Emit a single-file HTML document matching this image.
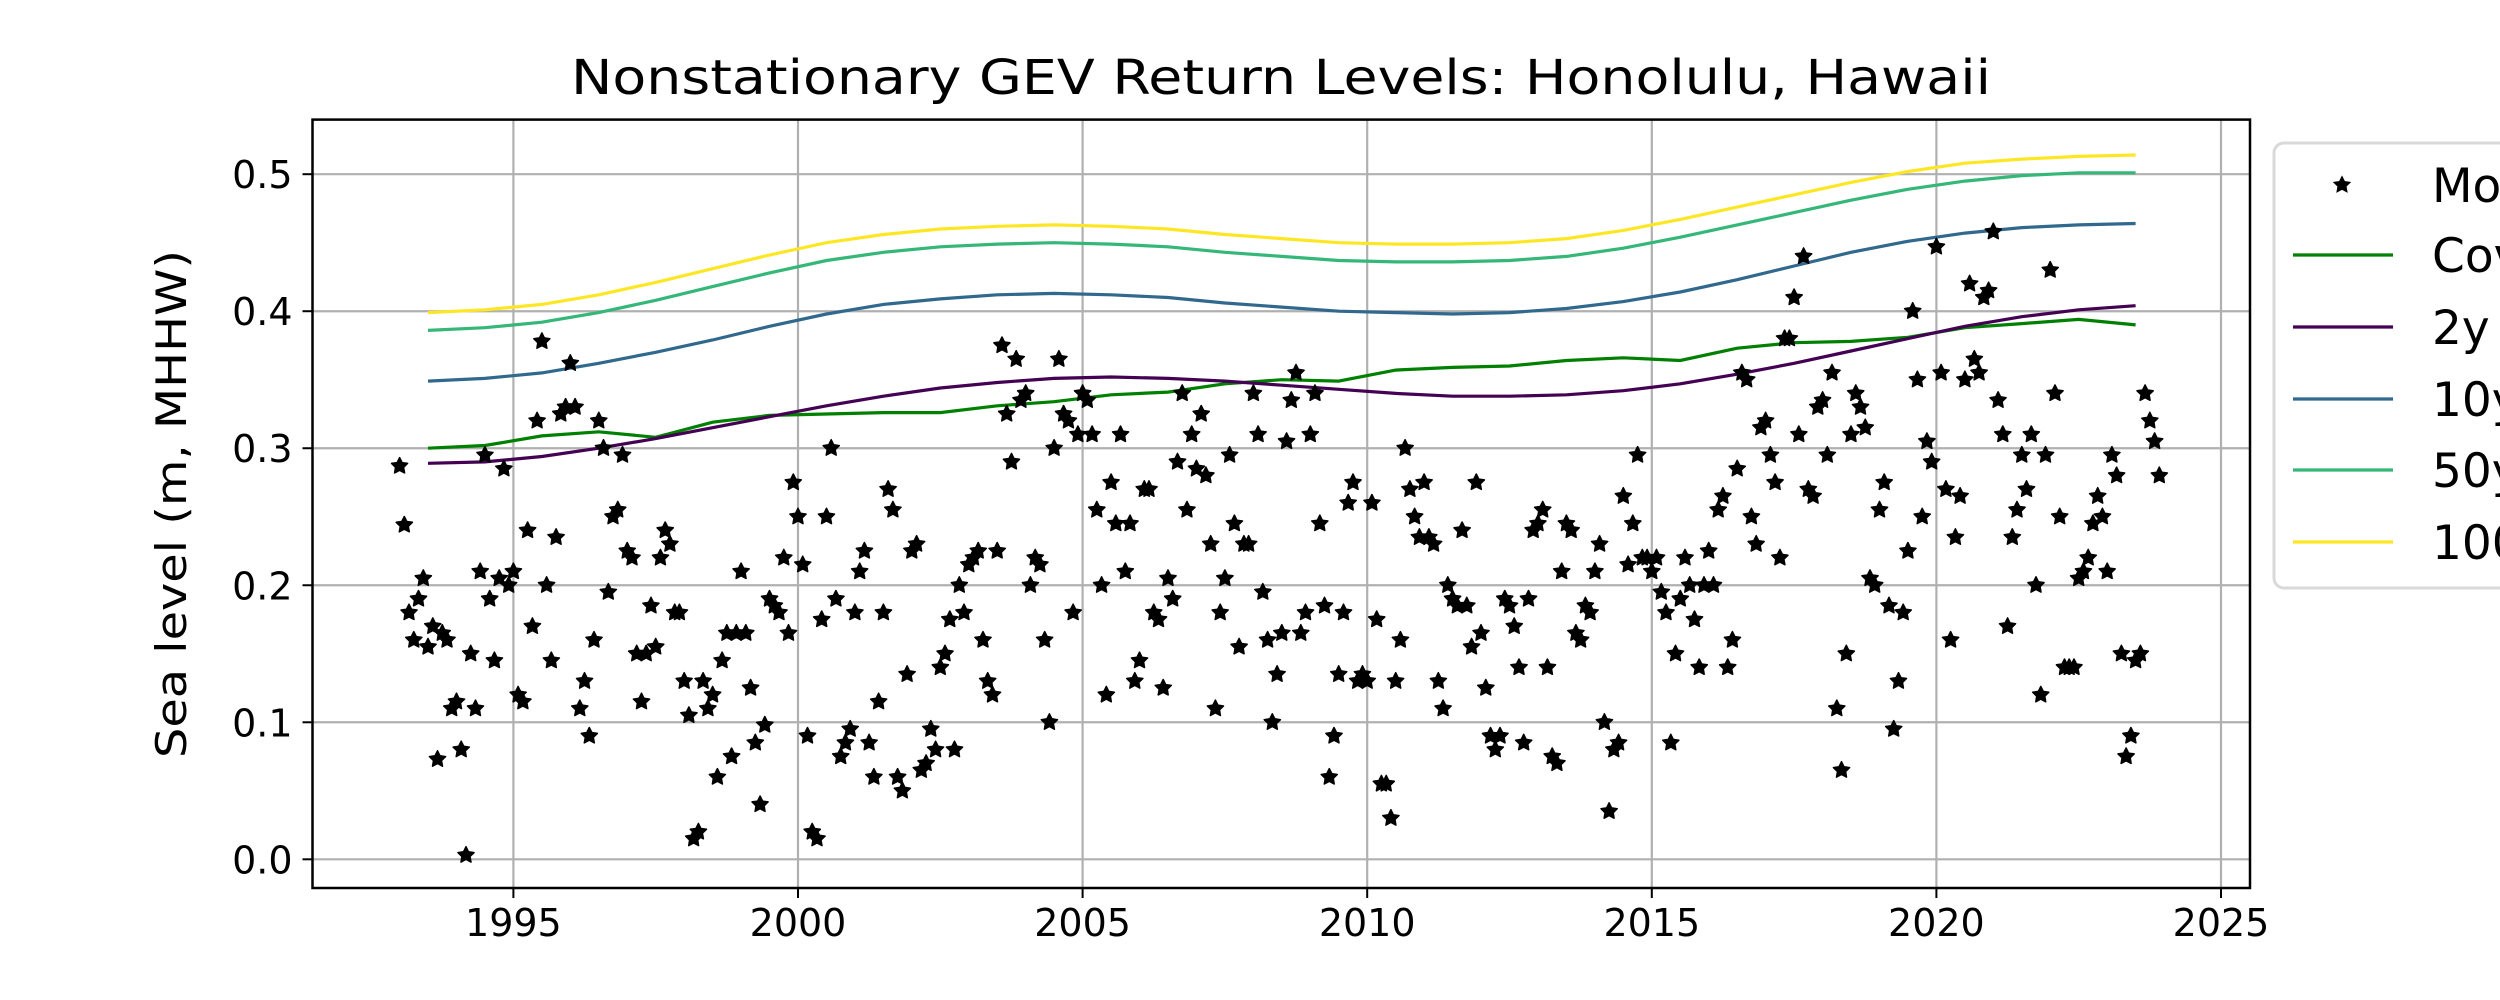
<!DOCTYPE html>
<html><head><meta charset="utf-8"><style>
html,body{margin:0;padding:0;background:#fff;}
svg{display:block;font-family:"DejaVu Sans","Liberation Sans",sans-serif;}
</style></head><body>
<svg id="chart" width="2500" height="1000" viewBox="0 0 2500 1000" xmlns="http://www.w3.org/2000/svg">
<rect width="2500" height="1000" fill="#fff"/>
<text x="1281" y="94" font-size="48" text-anchor="middle" textLength="1420" lengthAdjust="spacingAndGlyphs">Nonstationary GEV Return Levels: Honolulu, Hawaii</text>
<text transform="translate(186,504) rotate(-90)" font-size="42" text-anchor="middle" textLength="508" lengthAdjust="spacingAndGlyphs">Sea level (m, MHHW)</text>
<g id="grid"></g><g id="lines"></g><g id="points"></g><g id="axes"></g>
<g id="legend">
<rect x="2274" y="143" width="240" height="445" rx="10" fill="#fff" stroke="#d9d9d9" stroke-width="3"/>
</g>
</svg>
<script>
const monthlyMax = [
0.287,0.244,0.18,0.16,0.19,0.205,0.155,0.17,0.073,0.165,0.16,0.11,
0.115,0.08,0.003,0.15,0.11,0.21,0.295,0.19,0.145,0.205,0.285,0.2,
0.21,0.12,0.115,0.24,0.17,0.32,0.378,0.2,0.145,0.235,0.325,0.33,
0.362,0.33,0.11,0.13,0.09,0.16,0.32,0.3,0.195,0.25,0.255,0.295,
0.225,0.22,0.15,0.115,0.15,0.185,0.155,0.22,0.24,0.23,0.18,0.18,
0.13,0.105,0.015,0.02,0.13,0.11,0.12,0.06,0.145,0.165,0.075,0.165,
0.21,0.165,0.125,0.085,0.04,0.098,0.19,0.185,0.18,0.22,0.165,0.275,
0.25,0.215,0.09,0.02,0.015,0.175,0.25,0.3,0.19,0.075,0.085,0.095,
0.18,0.21,0.225,0.085,0.06,0.115,0.18,0.27,0.255,0.06,0.05,0.135,
0.225,0.23,0.065,0.07,0.095,0.08,0.14,0.15,0.175,0.08,0.2,0.18,
0.215,0.22,0.225,0.16,0.13,0.12,0.225,0.375,0.325,0.29,0.365,0.335,
0.34,0.2,0.22,0.215,0.16,0.1,0.3,0.365,0.325,0.32,0.18,0.31,
0.34,0.335,0.31,0.255,0.2,0.12,0.275,0.245,0.31,0.21,0.245,0.13,
0.145,0.27,0.27,0.18,0.175,0.125,0.205,0.19,0.29,0.34,0.255,0.31,
0.285,0.325,0.28,0.23,0.11,0.18,0.205,0.295,0.245,0.155,0.23,0.23,
0.34,0.31,0.195,0.16,0.1,0.135,0.165,0.305,0.335,0.355,0.165,0.18,
0.31,0.34,0.245,0.185,0.06,0.09,0.135,0.18,0.26,0.275,0.13,0.135,
0.13,0.26,0.175,0.055,0.055,0.03,0.13,0.16,0.3,0.27,0.25,0.235,
0.275,0.235,0.23,0.13,0.11,0.2,0.19,0.185,0.24,0.185,0.155,0.275,
0.165,0.125,0.09,0.08,0.09,0.19,0.185,0.17,0.14,0.085,0.19,0.24,
0.245,0.255,0.14,0.075,0.07,0.21,0.245,0.24,0.165,0.16,0.185,0.18,
0.21,0.23,0.1,0.035,0.08,0.085,0.265,0.215,0.245,0.295,0.22,0.22,
0.21,0.22,0.195,0.18,0.085,0.15,0.19,0.22,0.2,0.175,0.14,0.2,
0.225,0.2,0.255,0.265,0.14,0.16,0.285,0.355,0.35,0.25,0.23,0.315,
0.32,0.295,0.275,0.22,0.38,0.38,0.41,0.31,0.44,0.27,0.265,0.33,
0.335,0.295,0.355,0.11,0.065,0.15,0.31,0.34,0.33,0.315,0.205,0.2,
0.255,0.275,0.185,0.095,0.13,0.18,0.225,0.4,0.35,0.25,0.305,0.29,
0.447,0.355,0.27,0.16,0.235,0.265,0.35,0.42,0.365,0.355,0.41,0.415,
0.458,0.335,0.31,0.17,0.235,0.255,0.295,0.27,0.31,0.2,0.12,0.295,
0.43,0.34,0.25,0.14,0.14,0.14,0.205,0.21,0.22,0.245,0.265,0.25,
0.21,0.295,0.28,0.15,0.075,0.09,0.145,0.15,0.34,0.32,0.305,0.28];
const startYear = 1993.0;
const lineStartYear = 1993.5;
const covariate = [0.300,0.302,0.309,0.312,0.308,0.319,0.324,0.325,0.326,0.326,0.331,0.334,0.339,0.341,0.347,0.350,0.349,0.357,0.359,0.360,0.364,0.366,0.364,0.373,0.377,0.378,0.381,0.388,0.391,0.394,0.390];
const rl2 = [0.289,0.290,0.294,0.300,0.307,0.315,0.323,0.331,0.338,0.344,0.348,0.351,0.352,0.351,0.349,0.346,0.343,0.340,0.338,0.338,0.339,0.342,0.347,0.354,0.362,0.371,0.380,0.389,0.396,0.401,0.404];
const rl10 = [0.349,0.351,0.355,0.362,0.370,0.379,0.389,0.398,0.405,0.409,0.412,0.413,0.412,0.410,0.406,0.403,0.400,0.399,0.398,0.399,0.402,0.407,0.414,0.423,0.433,0.443,0.451,0.457,0.461,0.463,0.464];
const rl50 = [0.386,0.388,0.392,0.399,0.408,0.418,0.428,0.437,0.443,0.447,0.449,0.450,0.449,0.447,0.443,0.440,0.437,0.436,0.436,0.437,0.440,0.446,0.454,0.463,0.472,0.481,0.489,0.495,0.499,0.501,0.501];
const rl100 = [0.399,0.401,0.405,0.412,0.421,0.431,0.441,0.450,0.456,0.460,0.462,0.463,0.462,0.460,0.456,0.453,0.450,0.449,0.449,0.450,0.453,0.459,0.467,0.476,0.485,0.494,0.502,0.508,0.511,0.513,0.514];
const xTicks = [1995,2000,2005,2010,2015,2020,2025];
const yTicks = [0.0,0.1,0.2,0.3,0.4,0.5];
const legendLabels = ["Monthly maxima","Covariate","2y return level","10y return level","50y return level","100y return level"];

const NS="http://www.w3.org/2000/svg";
const L=312.5,R=2250,T=119.6,B=888;
function xs(y){return 513.4+(y-1995)*(2221-513.4)/30;}
function ys(v){return 859.3-v*(859.3-174.2)/0.5;}
function mk(tag,attrs,parent){const e=document.createElementNS(NS,tag);for(const k in attrs)e.setAttribute(k,attrs[k]);parent.appendChild(e);return e;}
const grid=document.getElementById('grid'),lines=document.getElementById('lines'),pts=document.getElementById('points'),axes=document.getElementById('axes'),leg=document.getElementById('legend');

xTicks.forEach(t=>{
  const g=mk('line',{x1:xs(t),x2:xs(t),y1:T,y2:B,stroke:'#b0b0b0','stroke-width':2.2},grid);
  
  
  const tk=mk('line',{x1:xs(t),x2:xs(t),y1:B,y2:B+10,stroke:'#000','stroke-width':2},axes);
  
  
  const tx=mk('text',{x:xs(t),y:B+48,'font-size':38,'text-anchor':'middle'},axes);
  tx.textContent=t;
  
  
});
yTicks.forEach(t=>{
  const g=mk('line',{x1:L,x2:R,y1:ys(t),y2:ys(t),stroke:'#b0b0b0','stroke-width':2.2},grid);
  
  
  const tk=mk('line',{x1:L-10,x2:L,y1:ys(t),y2:ys(t),stroke:'#000','stroke-width':2},axes);
  
  
  const tx=mk('text',{x:L-20,y:ys(t)+14,'font-size':38,'text-anchor':'end'},axes);
  tx.textContent=t.toFixed(1);
  
  
});
const frame=mk('rect',{x:L,y:T,width:R-L,height:B-T,fill:'none',stroke:'#000','stroke-width':2.5},axes);



const series=[[covariate,'#008000','covariate-line'],[rl2,'#440154','rl-2y-line'],[rl10,'#31688e','rl-10y-line'],[rl50,'#35b779','rl-50y-line'],[rl100,'#fde725','rl-100y-line']];
series.forEach(s=>{
  const d=s[0].map((v,i)=>(i?'L':'M')+xs(lineStartYear+i).toFixed(1)+','+ys(v).toFixed(1)).join('');
  const p=mk('path',{d:d,fill:'none',stroke:s[1],'stroke-width':3.2},lines);
  
  
});
function star(cx,cy,r){let s='';for(let i=0;i<10;i++){const a=-Math.PI/2+i*Math.PI/5;const rr=i%2?r*0.5:r;s+=(cx+rr*Math.cos(a)).toFixed(1)+','+(cy+rr*Math.sin(a)).toFixed(1)+' ';}return s;}
monthlyMax.forEach((v,i)=>{
  const p=mk('polygon',{points:star(xs(startYear+i/12),ys(v),8.5),fill:'#000',stroke:'#000','stroke-width':1.5,'stroke-linejoin':'round'},pts);
  
  
});
const legY=[185,255,327,399,470,542];
legendLabels.forEach((lab,i)=>{
  if(i===0){
    const p=mk('polygon',{points:star(2342,legY[0],8),fill:'#000',stroke:'#000','stroke-width':1.5},leg);
    
    
  } else {
    const ln=mk('line',{x1:2293,x2:2393,y1:legY[i],y2:legY[i],stroke:series[i-1][1],'stroke-width':3.2},leg);
    
    
  }
  const tx=mk('text',{x:2432,y:legY[i]+17,'font-size':47},leg);
  tx.textContent=lab;
  
  
});
</script>
</body></html>
